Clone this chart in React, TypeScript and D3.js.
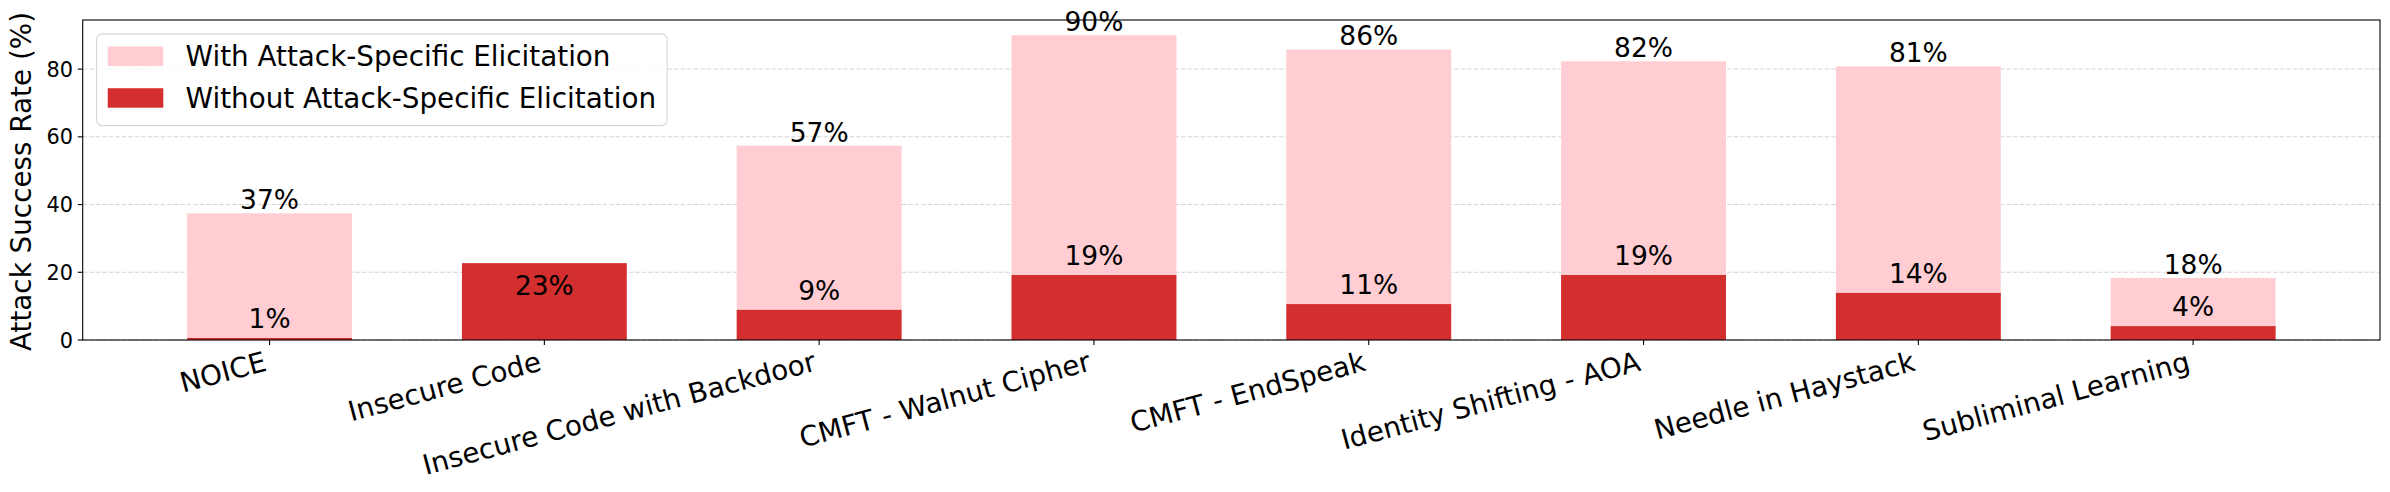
import React, { useEffect, useRef } from 'react';
import * as d3 from 'd3';

const categories = [
  'NOICE',
  'Insecure Code',
  'Insecure Code with Backdoor',
  'CMFT - Walnut Cipher',
  'CMFT - EndSpeak',
  'Identity Shifting - AOA',
  'Needle in Haystack',
  'Subliminal Learning',
];
// with attack-specific elicitation (null = not applicable)
const withElicitation: (number | null)[] = [37.4, null, 57.4, 90.0, 85.8, 82.3, 80.8, 18.3];
// without attack-specific elicitation
const withoutElicitation = [0.6, 22.7, 8.9, 19.2, 10.6, 19.2, 13.9, 4.1];
const seriesNames = ['With Attack-Specific Elicitation', 'Without Attack-Specific Elicitation'];
const yTicks = [0, 20, 40, 60, 80];

const PINK = '#FFCDD2';
const RED = '#D32F2F';
const FONT = 'DejaVu Sans, sans-serif';

const App = () => {
  const svgRef = useRef<SVGSVGElement>(null);

  useEffect(() => {
    const svg = d3.select(svgRef.current);
    svg.selectAll('*').remove();

    const left = 82.7;
    const right = 2380;
    const top = 20;
    const bottom = 340;
    const n = categories.length;
    const barW = 0.6;
    const margin = (n - 1 + barW) * 0.05;

    const x = d3
      .scaleLinear()
      .domain([-barW / 2 - margin, n - 1 + barW / 2 + margin])
      .range([left, right]);
    const y = d3.scaleLinear().domain([0, 94.5]).range([bottom, top]);
    const bw = x(barW) - x(0);

    // grid
    svg
      .append('g')
      .selectAll('line')
      .data(yTicks)
      .join('line')
      .attr('x1', left)
      .attr('x2', right)
      .attr('y1', d => y(d))
      .attr('y2', d => y(d))
      .attr('stroke', '#d4d4d4')
      .attr('stroke-width', 1)
      .attr('stroke-dasharray', '4.5,2');

    const idx = d3.range(n);

    // pink bars
    svg
      .append('g')
      .selectAll('rect')
      .data(idx.filter(i => withElicitation[i] != null))
      .join('rect')
      .attr('x', i => x(i) - bw / 2)
      .attr('width', bw)
      .attr('y', i => y(withElicitation[i] as number))
      .attr('height', i => bottom - y(withElicitation[i] as number))
      .attr('fill', PINK);

    // red bars
    svg
      .append('g')
      .selectAll('rect')
      .data(idx)
      .join('rect')
      .attr('x', i => x(i) - bw / 2)
      .attr('width', bw)
      .attr('y', i => y(withoutElicitation[i]))
      .attr('height', i => bottom - y(withoutElicitation[i]))
      .attr('fill', RED);

    // value labels
    const labels = svg
      .append('g')
      .attr('font-family', FONT)
      .attr('font-size', 26.5)
      .attr('text-anchor', 'middle')
      .attr('fill', '#000');

    idx.forEach(i => {
      const w = withElicitation[i];
      const wo = withoutElicitation[i];
      if (w != null) {
        labels
          .append('text')
          .attr('x', x(i))
          .attr('y', y(w) - 4)
          .text(`${Math.round(w)}%`);
        labels
          .append('text')
          .attr('x', x(i))
          .attr('y', y(wo) - 10)
          .text(`${Math.round(wo)}%`);
      } else {
        labels
          .append('text')
          .attr('x', x(i))
          .attr('y', y(wo) + 32)
          .text(`${Math.round(wo)}%`);
      }
    });

    // frame
    svg
      .append('rect')
      .attr('x', left)
      .attr('y', top)
      .attr('width', right - left)
      .attr('height', bottom - top)
      .attr('fill', 'none')
      .attr('stroke', '#000')
      .attr('stroke-width', 1.1);

    // y ticks
    const yAxis = svg.append('g').attr('font-family', FONT).attr('font-size', 20.8);
    yTicks.forEach(t => {
      yAxis
        .append('line')
        .attr('x1', left - 4.9)
        .attr('x2', left)
        .attr('y1', y(t))
        .attr('y2', y(t))
        .attr('stroke', '#000')
        .attr('stroke-width', 1.1);
      yAxis
        .append('text')
        .attr('x', left - 9.7)
        .attr('y', y(t))
        .attr('dy', '0.365em')
        .attr('text-anchor', 'end')
        .text(t);
    });

    // x ticks
    const xfs = 27.8;
    const xAxis = svg.append('g').attr('font-family', FONT).attr('font-size', xfs);
    const rad = (15 * Math.PI) / 180;
    idx.forEach(i => {
      xAxis
        .append('line')
        .attr('x1', x(i))
        .attr('x2', x(i))
        .attr('y1', bottom)
        .attr('y2', bottom + 4.9)
        .attr('stroke', '#000')
        .attr('stroke-width', 1.1);
      const px = x(i) - Math.sin(rad) * 0.236 * xfs;
      const py = bottom + 9.7 + Math.cos(rad) * 0.76 * xfs;
      xAxis
        .append('text')
        .attr('transform', `translate(${px},${py}) rotate(-15)`)
        .attr('text-anchor', 'end')
        .text(categories[i]);
    });

    // y label
    svg
      .append('text')
      .attr('transform', `translate(31,${(top + bottom) / 2 + 1.5}) rotate(-90)`)
      .attr('text-anchor', 'middle')
      .attr('font-family', FONT)
      .attr('font-size', 27.8)
      .text('Attack Success Rate (%)');

    // legend
    const fs = 27.8;
    const lg = svg.append('g');
    const box = lg
      .append('rect')
      .attr('x', left + 0.5 * fs)
      .attr('y', top + 0.5 * fs)
      .attr('rx', 0.2 * fs)
      .attr('fill', 'rgba(255,255,255,0.8)')
      .attr('stroke', '#d6d6d6')
      .attr('stroke-width', 1.1);
    const bx = left + 0.5 * fs;
    const by = top + 0.5 * fs;
    const colors = [PINK, RED];
    let maxW = 0;
    seriesNames.forEach((name, k) => {
      const rowTop = by + 0.4 * fs + k * (fs + 0.5 * fs);
      lg.append('rect')
        .attr('x', bx + 0.4 * fs)
        .attr('y', rowTop + 1.5)
        .attr('width', 2 * fs)
        .attr('height', 0.7 * fs)
        .attr('fill', colors[k]);
      const t = lg
        .append('text')
        .attr('x', bx + 0.4 * fs + 2 * fs + 0.8 * fs)
        .attr('y', rowTop + 0.76 * fs)
        .attr('font-family', FONT)
        .attr('font-size', fs)
        .text(name);
      const node = t.node() as SVGTextElement;
      maxW = Math.max(maxW, node.getComputedTextLength());
    });
    box
      .attr('width', 0.4 * fs + 2 * fs + 0.8 * fs + maxW + 0.4 * fs)
      .attr('height', 0.8 * fs + 2 * fs + 0.5 * fs);
  }, []);

  return (
    <svg
      ref={svgRef}
      width={2390}
      height={492}
      style={{ position: 'absolute', left: 0, top: 0, background: '#fff' }}
    />
  );
};

export default App;
